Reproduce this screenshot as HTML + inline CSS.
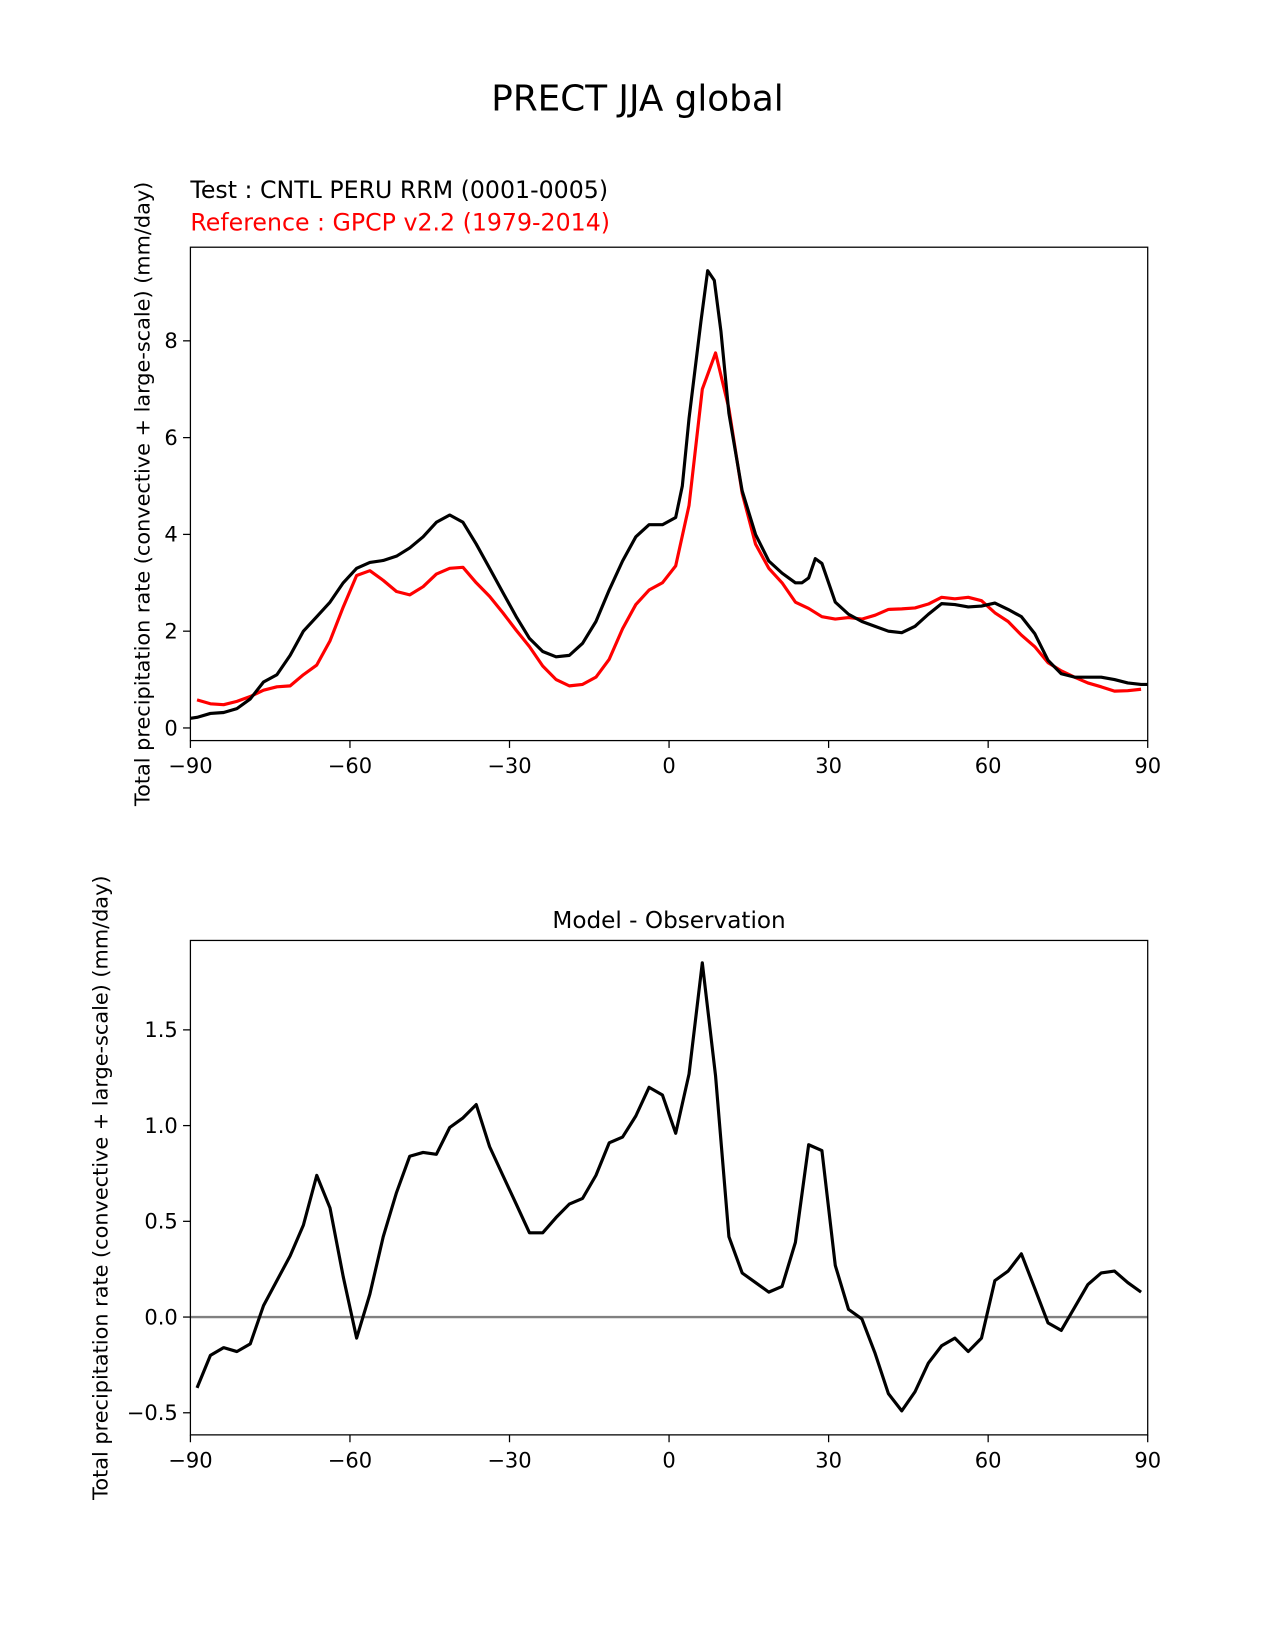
<!DOCTYPE html>
<html><head><meta charset="utf-8">
<style>
body{margin:0;background:#fff;}
svg{display:block;font-family:"DejaVu Sans","Liberation Sans",sans-serif;}
</style></head>
<body>
<svg id="fig" width="1275" height="1650" viewBox="0 0 1212 1568.5" preserveAspectRatio="none" xmlns="http://www.w3.org/2000/svg">
<rect width="1212" height="1568.5" fill="#fff"/>
<text x="606" y="105" font-size="34" text-anchor="middle">PRECT JJA global</text>
<text x="181" y="188" font-size="22.5">Test : CNTL PERU RRM (0001-0005)</text>
<text x="181" y="219" font-size="22.5" fill="#ff0000">Reference : GPCP v2.2 (1979-2014)</text>
<text x="636" y="882" font-size="22" text-anchor="middle">Model - Observation</text>
<g id="top"></g>
<g id="bot"></g>
</svg>
<script>
const xTicks=[-90,-60,-30,0,30,60,90];
const topYTicks=[0,2,4,6,8];
const botYTicks=[-0.5,0.0,0.5,1.0,1.5];
const botYLabels=["\u22120.5","0.0","0.5","1.0","1.5"];
const lats=[-88.75,-86.25,-83.75,-81.25,-78.75,-76.25,-73.75,-71.25,-68.75,-66.25,-63.75,-61.25,-58.75,-56.25,-53.75,-51.25,-48.75,-46.25,-43.75,-41.25,-38.75,-36.25,-33.75,-31.25,-28.75,-26.25,-23.75,-21.25,-18.75,-16.25,-13.75,-11.25,-8.75,-6.25,-3.75,-1.25,1.25,3.75,6.25,8.75,11.25,13.75,16.25,18.75,21.25,23.75,26.25,28.75,31.25,33.75,36.25,38.75,41.25,43.75,46.25,48.75,51.25,53.75,56.25,58.75,61.25,63.75,66.25,68.75,71.25,73.75,76.25,78.75,81.25,83.75,86.25,88.75];
const testLats=[-90,-88.75,-86.25,-83.75,-81.25,-78.75,-76.25,-73.75,-71.25,-68.75,-66.25,-63.75,-61.25,-58.75,-56.25,-53.75,-51.25,-48.75,-46.25,-43.75,-41.25,-38.75,-36.25,-33.75,-31.25,-28.75,-26.25,-23.75,-21.25,-18.75,-16.25,-13.75,-11.25,-8.75,-6.25,-3.75,-1.25,1.25,2.5,3.75,6.0,7.25,8.5,9.75,11.25,13.75,16.25,18.75,21.25,23.75,25.0,26.25,27.5,28.75,31.25,33.75,36.25,38.75,41.25,43.75,46.25,48.75,51.25,53.75,56.25,58.75,61.25,63.75,66.25,68.75,71.25,73.75,76.25,78.75,81.25,83.75,86.25,88.75,90];
const testVals=[0.2,0.22,0.3,0.32,0.4,0.6,0.95,1.1,1.5,2.0,2.3,2.6,3.0,3.3,3.42,3.46,3.55,3.72,3.95,4.25,4.4,4.25,3.8,3.3,2.8,2.3,1.85,1.58,1.47,1.5,1.75,2.2,2.85,3.45,3.95,4.2,4.2,4.35,5.0,6.4,8.4,9.45,9.25,8.2,6.5,4.9,4.0,3.45,3.2,3.0,3.0,3.1,3.5,3.4,2.6,2.35,2.2,2.1,2.0,1.97,2.1,2.35,2.57,2.55,2.5,2.52,2.58,2.45,2.3,1.95,1.4,1.12,1.05,1.05,1.05,1.0,0.93,0.9,0.9];
const refVals=[0.58,0.5,0.48,0.55,0.65,0.78,0.85,0.87,1.1,1.3,1.8,2.5,3.15,3.25,3.05,2.82,2.75,2.92,3.18,3.3,3.32,3.0,2.72,2.38,2.02,1.68,1.28,1.0,0.87,0.9,1.05,1.42,2.05,2.55,2.85,3.0,3.35,4.6,7.0,7.75,6.6,4.85,3.8,3.3,3.0,2.6,2.47,2.3,2.25,2.28,2.25,2.33,2.45,2.46,2.48,2.56,2.7,2.67,2.7,2.63,2.38,2.2,1.92,1.68,1.35,1.18,1.05,0.93,0.85,0.76,0.77,0.8];
const diffVals=[-0.37,-0.2,-0.16,-0.18,-0.14,0.06,0.19,0.32,0.48,0.74,0.57,0.21,-0.11,0.12,0.42,0.65,0.84,0.86,0.85,0.99,1.04,1.11,0.89,0.74,0.59,0.44,0.44,0.52,0.59,0.62,0.74,0.91,0.94,1.05,1.2,1.16,0.96,1.27,1.85,1.26,0.42,0.23,0.18,0.13,0.16,0.39,0.9,0.87,0.27,0.04,-0.01,-0.19,-0.4,-0.49,-0.39,-0.24,-0.15,-0.11,-0.18,-0.11,0.19,0.24,0.33,0.15,-0.03,-0.07,0.05,0.17,0.23,0.24,0.18,0.13];

const NS="http://www.w3.org/2000/svg";
function mk(parent,tag,attrs){const e=document.createElementNS(NS,tag);for(const k in attrs)e.setAttribute(k,attrs[k]);parent.appendChild(e);return e;}
const L=181,R=1091;
function xs(v){return L+(v+90)*(R-L)/180;}
function panel(g,top,bot,y0,ppu,yt,ylabels,labX){
  const ys=v=>y0-v*ppu;
  for(let i=0;i<xTicks.length;i++){
    const x=xs(xTicks[i]);
    const t=mk(g,'line',{x1:x,x2:x,y1:bot,y2:bot+7,stroke:'#000','stroke-width':1.2});
    
    
    const tx=mk(g,'text',{x:x,y:bot+31,'font-size':20,'text-anchor':'middle'});
    tx.textContent=String(xTicks[i]).replace('-','\u2212');
    
    
  }
  for(let i=0;i<yt.length;i++){
    const y=ys(yt[i]);
    const t=mk(g,'line',{x1:L-7,x2:L,y1:y,y2:y,stroke:'#000','stroke-width':1.2});
    
    
    const tx=mk(g,'text',{x:L-12,y:y+7,'font-size':20,'text-anchor':'end'});
    tx.textContent=ylabels[i];
    
    
  }
  const cy=(top+bot)/2;
  const lab=mk(g,'text',{x:0,y:0,'font-size':19.8,'text-anchor':'middle',transform:`translate(${labX},${cy}) rotate(-90)`});
  lab.textContent='Total precipitation rate (convective + large-scale) (mm/day)';
  
  
  return ys;
}
function line(g,xv,yv,ys,color,nm){
  const d=xv.map((x,i)=>(i?'L':'M')+xs(x).toFixed(1)+','+ys(yv[i]).toFixed(1)).join(' ');
  const p=mk(g,'path',{d:d,fill:'none',stroke:color,'stroke-width':3,'stroke-linejoin':'round'});
  
  
}
const gt=document.getElementById('top');
const ysT=panel(gt,235,704,692,46,topYTicks,topYTicks.map(String),142);
line(gt,lats,refVals,ysT,'#ff0000','reference-line');
line(gt,testLats,testVals,ysT,'#000','test-line');
const f1=mk(gt,'rect',{x:L,y:235,width:R-L,height:469,fill:'none',stroke:'#000','stroke-width':1.2});



const gb=document.getElementById('bot');
const ysB=panel(gb,894,1364,1252,182,botYTicks,botYLabels,102);
const z=mk(gb,'line',{x1:L,x2:R,y1:ysB(0),y2:ysB(0),stroke:'#808080','stroke-width':2.2});


line(gb,lats,diffVals,ysB,'#000','difference-line');
const f2=mk(gb,'rect',{x:L,y:894,width:R-L,height:470,fill:'none',stroke:'#000','stroke-width':1.2});


</script>
</body></html>
